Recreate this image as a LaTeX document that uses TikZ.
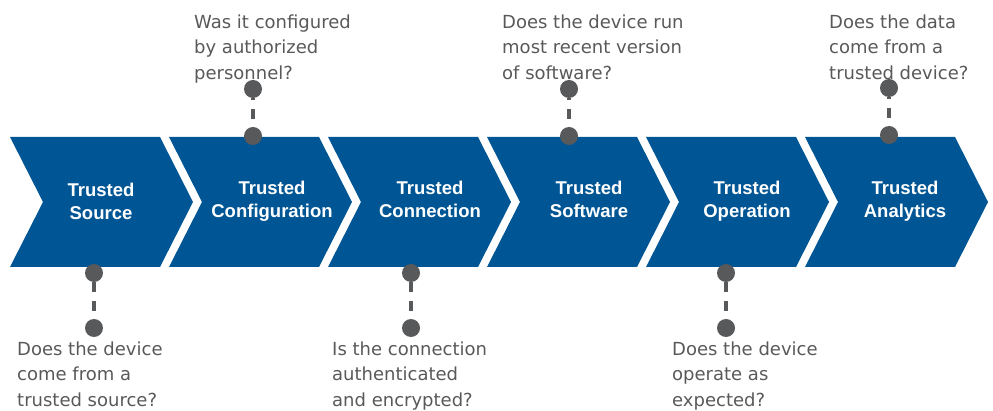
\documentclass[tikz,border=0pt]{standalone}
\usepackage{fontspec}
\newfontfamily\questionfont{DejaVu Sans}
\newfontfamily\stagefont{Liberation Sans}
\definecolor{stageblue}{RGB}{0,85,148}
\definecolor{questiongrey}{RGB}{89,89,89}
\definecolor{pingrey}{RGB}{88,89,91}
% fixes the height of a text's first line, so its baseline sits 15pt below the node top
\newcommand\firstline{\rule{0pt}{15pt}}

\begin{document}
\begin{tikzpicture}[x=1pt,y=-1pt,
  stagelabel/.style={anchor=north, inner sep=0pt, align=center, text=white,
    font=\stagefont\bfseries\fontsize{18.5}{23.5}\selectfont},
  question/.style={anchor=north west, inner sep=0pt, align=left, text=questiongrey,
    font=\questionfont\fontsize{18}{25.5}\selectfont},
  pin/.style={circle, fill=pingrey, minimum size=18pt, inner sep=0pt},
  pinlink/.style={draw=pingrey, line width=4pt, dash pattern=on 10pt off 9pt}
]
\useasboundingbox (0,0) rectangle (993,411);

% chevron band
\foreach \L in {10,169,328,487,646,805}
  \fill[stageblue] (\L,137) -- ++(150,0) -- ++(33,65) -- ++(-33,65)
    -- ++(-150,0) -- ++(33,-65) -- cycle;

% stage names
\node[stagelabel] (source)    at (101,181) {\firstline Trusted\\Source};
\node[stagelabel] (config)    at (272,179) {\firstline Trusted\\Configuration};
\node[stagelabel] (connect)   at (430,179) {\firstline Trusted\\Connection};
\node[stagelabel] (software)  at (589,179) {\firstline Trusted\\Software};
\node[stagelabel] (operation) at (747,179) {\firstline Trusted\\Operation};
\node[stagelabel] (analytics) at (905,179) {\firstline Trusted\\Analytics};

% pins below the band
\node[pin] (sourceband) at (94,273) {};
\node[pin] (sourceq)    at (94,328) {};
\draw[pinlink] (sourceband) -- (sourceq);
\node[pin] (connectband) at (411,273) {};
\node[pin] (connectq)    at (411,328) {};
\draw[pinlink] (connectband) -- (connectq);
\node[pin] (operationband) at (726,273) {};
\node[pin] (operationq)    at (726,328) {};
\draw[pinlink] (operationband) -- (operationq);

% pins above the band
\node[pin] (configq)    at (253,89) {};
\node[pin] (configband) at (253,136) {};
\draw[pinlink, dash phase=8pt] (configq) -- (configband);
\node[pin] (softwareq)    at (569,89) {};
\node[pin] (softwareband) at (569,136) {};
\draw[pinlink, dash phase=8pt] (softwareq) -- (softwareband);
\node[pin] (analyticsq)    at (889,88) {};
\node[pin] (analyticsband) at (889,135) {};
\draw[pinlink, dash phase=8pt] (analyticsq) -- (analyticsband);

% questions
\node[question] (qconfig)    at (194,13) {\firstline Was it configured\\by authorized\\personnel?};
\node[question] (qsoftware)  at (502,13) {\firstline Does the device run\\most recent version\\of software?};
\node[question] (qanalytics) at (829,13) {\firstline Does the data\\come from a\\trusted device?};
\node[question] (qsource)    at (17,340) {\firstline Does the device\\come from a\\trusted source?};
\node[question] (qconnect)   at (332,340) {\firstline Is the connection\\authenticated\\and encrypted?};
\node[question] (qoperation) at (672,340) {\firstline Does the device\\operate as\\expected?};
\end{tikzpicture}
\end{document}
